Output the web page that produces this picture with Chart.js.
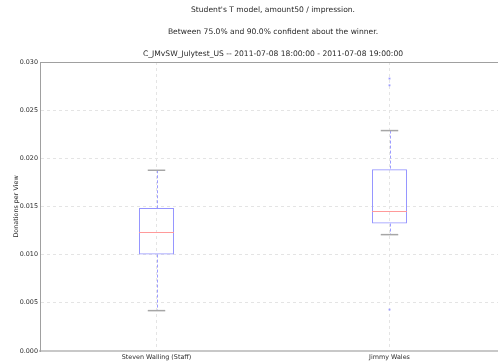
<!DOCTYPE html>
<html>
<head>
<meta charset="utf-8">
<script src="https://cdn.jsdelivr.net/npm/chart.js@4/dist/chart.umd.min.js"></script>
<style>
  html, body { margin: 0; padding: 0; background: #fff; overflow: hidden; }
  #wrap { width: 498px; height: 362px; overflow: hidden; }
  canvas { display: block; }
</style>
</head>
<body>
<div id="wrap"><canvas id="c" width="520" height="362"></canvas></div>
<script>
// Box-plot summary per arm: donations per view
const categories = ['Steven Walling (Staff)', 'Jimmy Wales'];
const whiskerLow = [0.00419, 0.01208];
const q1 = [0.01001, 0.01323];
const median = [0.01240, 0.01457];
const q3 = [0.01484, 0.01886];
const whiskerHigh = [0.01876, 0.02288];
// outliers beyond the whiskers, per arm
const fliers = [[], [0.02828, 0.02758, 0.00430]];
const yTicks = [0, 0.005, 0.010, 0.015, 0.020, 0.025, 0.030];
const titleLines = [
  "Student's T model, amount50 / impression.",
  'Between 75.0% and 90.0% confident about the winner.',
  'C_JMvSW_Julytest_US -- 2011-07-08 18:00:00 - 2011-07-08 19:00:00'
];
const yTitle = 'Donations per View';

const FONT = '"DejaVu Sans", sans-serif';
const TEXT = '#2a2a2a';

const flierPoints = [];
fliers.forEach((arr, i) => arr.forEach(v => flierPoints.push({ x: categories[i], y: v })));

// whiskers, caps, medians, top spine and the stacked titles
const boxExtras = {
  id: 'boxExtras',
  beforeDatasetsDraw(chart) {
    const { ctx, scales: { x, y } } = chart;
    ctx.save();
    ctx.strokeStyle = '#9c9cff';
    ctx.lineWidth = 1;
    ctx.setLineDash([3, 2]);
    categories.forEach((c, i) => {
      const px = Math.round(x.getPixelForValue(i)) + 0.5;
      ctx.beginPath();
      ctx.moveTo(px, y.getPixelForValue(whiskerHigh[i]));
      ctx.lineTo(px, y.getPixelForValue(q3[i]));
      ctx.moveTo(px, y.getPixelForValue(q1[i]));
      ctx.lineTo(px, y.getPixelForValue(whiskerLow[i]));
      ctx.stroke();
    });
    ctx.restore();
  },
  afterDatasetsDraw(chart) {
    const { ctx, scales: { x, y }, chartArea } = chart;
    const half = x.getPixelForValue(1) - x.getPixelForValue(0);
    ctx.save();
    categories.forEach((c, i) => {
      const px = x.getPixelForValue(i);
      const boxHalf = half * 0.15 / 2;
      const capHalf = boxHalf / 2;
      ctx.strokeStyle = '#a6a6a6';
      ctx.lineWidth = 1.5;
      [whiskerHigh[i], whiskerLow[i]].forEach(v => {
        const py = y.getPixelForValue(v);
        ctx.beginPath();
        ctx.moveTo(px - capHalf, py);
        ctx.lineTo(px + capHalf, py);
        ctx.stroke();
      });
      ctx.strokeStyle = '#ff9a9a';
      ctx.lineWidth = 1;
      const pm = Math.round(y.getPixelForValue(median[i])) + 0.5;
      ctx.beginPath();
      ctx.moveTo(px - boxHalf, pm);
      ctx.lineTo(px + boxHalf, pm);
      ctx.stroke();
    });
    // top spine
    ctx.strokeStyle = '#a0a0a0';
    ctx.lineWidth = 1;
    ctx.beginPath();
    ctx.moveTo(chartArea.left, Math.round(chartArea.top) + 0.5);
    ctx.lineTo(chartArea.right, Math.round(chartArea.top) + 0.5);
    ctx.stroke();
    // titles
    ctx.fillStyle = TEXT;
    ctx.font = '7.6px ' + FONT;
    ctx.textAlign = 'center';
    ctx.textBaseline = 'middle';
    const cx = (chartArea.left + chartArea.right) / 2;
    [10, 32.5, 54.3].forEach((ty, k) => ctx.fillText(titleLines[k], cx, ty));
    ctx.restore();
  }
};

new Chart(document.getElementById('c'), {
  data: {
    labels: categories,
    datasets: [
      {
        type: 'bar',
        data: categories.map((c, i) => [q1[i], q3[i]]),
        backgroundColor: 'rgba(0,0,0,0)',
        borderColor: '#9494ff',
        borderWidth: 1,
        borderSkipped: false,
        barPercentage: 0.15,
        categoryPercentage: 1
      },
      {
        type: 'line',
        data: flierPoints,
        showLine: false,
        pointStyle: 'rect',
        pointRadius: 1.3,
        pointBackgroundColor: '#9a9aff',
        pointBorderWidth: 0
      }
    ]
  },
  options: {
    responsive: false,
    animation: false,
    devicePixelRatio: 1,
    layout: { padding: { top: 62, right: 14, left: 0, bottom: 0 } },
    plugins: { legend: { display: false }, tooltip: { enabled: false }, title: { display: false } },
    scales: {
      x: {
        type: 'category',
        offset: true,
        grid: { offset: false, color: '#e4e4e4', drawTicks: false },
        border: { color: '#c8c8c8', width: 2, dash: [3, 3] },
        ticks: { color: TEXT, font: { family: FONT, size: 6.4 }, padding: 3, maxRotation: 0 },
        afterFit(s) { s.height = 11; }
      },
      y: {
        min: 0,
        max: 0.03,
        afterBuildTicks(s) { s.ticks = yTicks.map(v => ({ value: v })); },
        grid: { color: '#e4e4e4', drawTicks: false },
        border: { color: '#a0a0a0', width: 1, dash: [3, 3] },
        ticks: {
          color: TEXT,
          font: { family: FONT, size: 6.4 },
          padding: 2,
          callback: v => Number(v).toFixed(3)
        },
        title: {
          display: true,
          text: yTitle,
          color: TEXT,
          font: { family: FONT, size: 6.4 },
          padding: { top: 13, bottom: 0 }
        },
        afterFit(s) { s.width = 40; }
      }
    }
  },
  plugins: [boxExtras]
});
</script>
</body>
</html>
